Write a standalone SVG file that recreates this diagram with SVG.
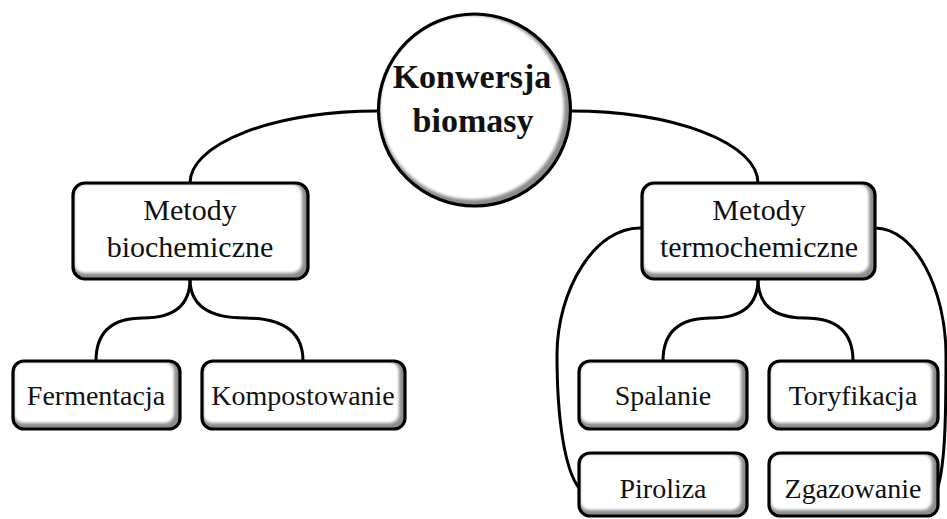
<svg xmlns="http://www.w3.org/2000/svg" width="947" height="519" viewBox="0 0 947 519">
<defs>
<filter id="soft" x="-10%" y="-10%" width="120%" height="120%"><feGaussianBlur stdDeviation="1.6"/></filter>
</defs>
<style>
.conn{fill:none;stroke:#000;stroke-width:3}
.sh{fill:#8c8c8c}
.in{fill:#fff;filter:url(#soft)}
.bd{fill:none;stroke:#000;stroke-width:3.2}
.t{font-family:"Liberation Serif","Times New Roman",serif;fill:#111;text-anchor:middle}
.m{font-size:30px}
.l{font-size:28px}
.c{font-size:34px;font-weight:bold}
</style>
<rect width="947" height="519" fill="#fff"/>
<g id="connectors">
<path class="conn" d="M378,111 A188,72 0 0 0 190,183"/>
<path class="conn" d="M571,111 A187,72 0 0 1 758,183"/>
<path class="conn" d="M190,279 Q190,318 143,318 Q96,318 96,361"/>
<path class="conn" d="M190,279 Q190,318 245,318 Q303,318 303,361"/>
<path class="conn" d="M758,279 Q758,318 711,318 Q663,318 663,361"/>
<path class="conn" d="M758,279 Q758,318 805,318 Q853,318 853,361"/>
<path class="conn" d="M642,228 C595,226 557,290 557,355 C557,420 565,470 579,488"/>
<path class="conn" d="M875,228 C915,228 946,290 946,355 C946,420 945,462 938,487"/>
</g>
<g id="n-root">
<circle class="sh" cx="474.5" cy="110" r="96"/>
<circle class="in" cx="472" cy="107.5" r="92"/>
<circle class="bd" cx="474.5" cy="110" r="96"/>
<text class="t c" x="472" y="88">Konwersja</text>
<text class="t c" x="473" y="132">biomasy</text>
</g>
<g id="n-bio">
<rect class="sh" x="73" y="183" width="235" height="96" rx="12"/>
<rect class="in" x="74" y="184" width="228" height="89" rx="10"/>
<rect class="bd" x="73" y="183" width="235" height="96" rx="12"/>
<text class="t m" x="190" y="220">Metody</text>
<text class="t m" x="190" y="257">biochemiczne</text>
</g>
<g id="n-termo">
<rect class="sh" x="642" y="183" width="233" height="96" rx="12"/>
<rect class="in" x="643" y="184" width="226" height="89" rx="10"/>
<rect class="bd" x="642" y="183" width="233" height="96" rx="12"/>
<text class="t m" x="759" y="220">Metody</text>
<text class="t m" x="759" y="257">termochemiczne</text>
</g>
<g id="n-ferm">
<rect class="sh" x="13" y="361" width="167" height="68" rx="11"/>
<rect class="in" x="14" y="362" width="160" height="61" rx="9"/>
<rect class="bd" x="13" y="361" width="167" height="68" rx="11"/>
<text class="t l" x="96" y="405">Fermentacja</text>
</g>
<g id="n-komp">
<rect class="sh" x="202" y="361" width="203" height="68" rx="11"/>
<rect class="in" x="203" y="362" width="196" height="61" rx="9"/>
<rect class="bd" x="202" y="361" width="203" height="68" rx="11"/>
<text class="t l" x="303" y="405">Kompostowanie</text>
</g>
<g id="n-spal">
<rect class="sh" x="579" y="361" width="168" height="68" rx="11"/>
<rect class="in" x="580" y="362" width="161" height="61" rx="9"/>
<rect class="bd" x="579" y="361" width="168" height="68" rx="11"/>
<text class="t l" x="663" y="405">Spalanie</text>
</g>
<g id="n-tory">
<rect class="sh" x="769" y="361" width="169" height="68" rx="11"/>
<rect class="in" x="770" y="362" width="162" height="61" rx="9"/>
<rect class="bd" x="769" y="361" width="169" height="68" rx="11"/>
<text class="t l" x="853" y="405">Toryfikacja</text>
</g>
<g id="n-piro">
<rect class="sh" x="579" y="453" width="168" height="63" rx="11"/>
<rect class="in" x="580" y="454" width="161" height="56" rx="9"/>
<rect class="bd" x="579" y="453" width="168" height="63" rx="11"/>
<text class="t l" x="663" y="498">Piroliza</text>
</g>
<g id="n-zgaz">
<rect class="sh" x="769" y="453" width="169" height="63" rx="11"/>
<rect class="in" x="770" y="454" width="162" height="56" rx="9"/>
<rect class="bd" x="769" y="453" width="169" height="63" rx="11"/>
<text class="t l" x="853" y="498">Zgazowanie</text>
</g>
</svg>
